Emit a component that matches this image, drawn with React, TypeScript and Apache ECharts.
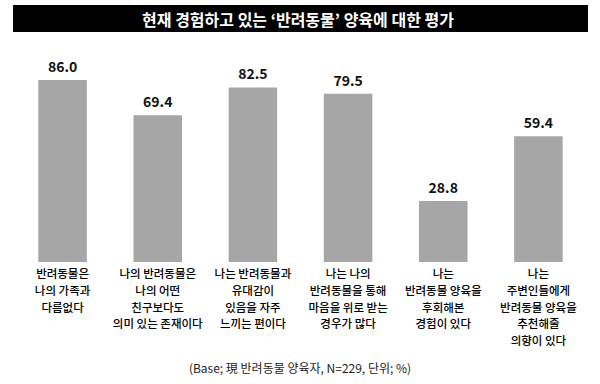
import React, { useEffect, useRef } from "react";
import * as echarts from "echarts";

const titleText = "현재 경험하고 있는 ‘반려동물’ 양육에 대한 평가";
const categories = [
  "반려동물은\n나의 가족과\n다름없다",
  "나의 반려동물은\n나의 어떤\n친구보다도\n의미 있는 존재이다",
  "나는 반려동물과\n유대감이\n있음을 자주\n느끼는 편이다",
  "나는 나의\n반려동물을 통해\n마음을 위로 받는\n경우가 많다",
  "나는\n반려동물 양육을\n후회해본\n경험이 있다",
  "나는\n주변인들에게\n반려동물 양육을\n추천해줄\n의향이 있다",
];
const values = [86.0, 69.4, 82.5, 79.5, 28.8, 59.4];
const footnote = "(Base; 現 반려동물 양육자, N=229, 단위; %)";

const FONT = "'Noto Sans CJK KR', 'Noto Sans', sans-serif";

export default function App() {
  const ref = useRef<HTMLDivElement>(null);
  useEffect(() => {
    if (!ref.current) return;
    const chart = echarts.init(ref.current, null, { renderer: "svg" });
    chart.setOption({
      animation: false,
      backgroundColor: "#ffffff",
      graphic: [
        {
          type: "rect",
          shape: { x: 13, y: 5, width: 575, height: 27 },
          style: { fill: "#000000" },
        },
        {
          type: "text",
          x: 298,
          y: 19,
          style: {
            text: titleText,
            fill: "#ffffff",
            font: `bold 16px ${FONT}`,
            align: "center",
            verticalAlign: "middle",
          },
        },
        {
          type: "text",
          x: 300,
          y: 367,
          style: {
            text: footnote,
            fill: "#222222",
            font: `12px ${FONT}`,
            align: "center",
            verticalAlign: "middle",
          },
        },
      ],
      grid: { left: 15, right: 14, top: 50.4, bottom: 122 },
      xAxis: {
        type: "category",
        data: categories,
        axisLine: { show: false },
        axisTick: { show: false },
        axisLabel: {
          interval: 0,
          margin: 3,
          color: "#000000",
          fontFamily: FONT,
          fontSize: 11.5,
          fontWeight: 500,
          lineHeight: 16.7,
        },
      },
      yAxis: {
        type: "value",
        min: 0,
        max: 100,
        show: false,
        splitLine: { show: false },
      },
      series: [
        {
          type: "bar",
          data: values,
          barWidth: "51%",
          itemStyle: { color: "#a6a6a6" },
          label: {
            show: true,
            position: "top",
            distance: 7,
            formatter: (p: any) => Number(p.value).toFixed(1),
            color: "#111111",
            fontFamily: FONT,
            fontWeight: "bold",
            fontSize: 14,
          },
        },
      ],
    });
    return () => chart.dispose();
  }, []);
  return (
    <div
      ref={ref}
      style={{ position: "absolute", left: 0, top: 0, width: 600, height: 384 }}
    />
  );
}
